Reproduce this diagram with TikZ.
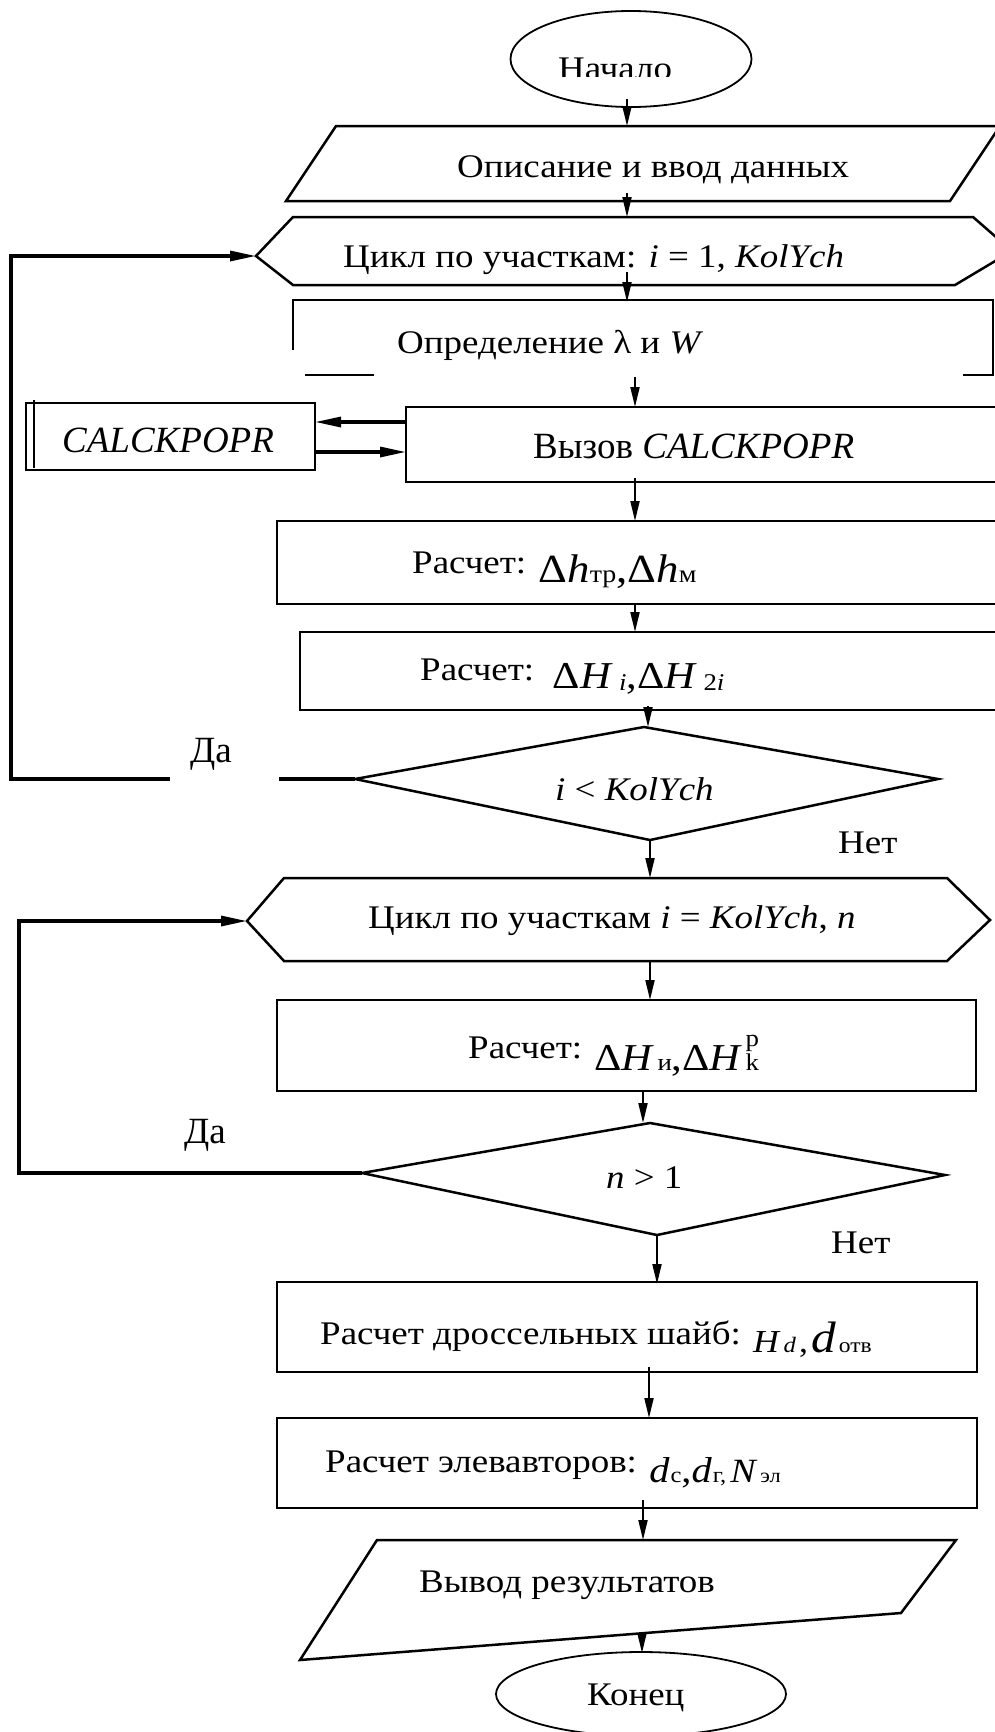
\documentclass[tikz,border=0pt]{standalone}
\usepackage{fontspec}
\setmainfont[FakeStretch=1.12]{Liberation Serif}
\newfontfamily\plainrm{Liberation Serif}
\usetikzlibrary{arrows.meta,shapes.geometric}
\newcommand{\fsz}[1]{\fontsize{#1}{#1}\selectfont}
\begin{document}
\begin{tikzpicture}[x=1pt,y=-1pt,
  box/.style={line width=2.5pt},
  thinl/.style={line width=1.8pt},
  arr/.style={line width=2pt,-{Triangle[length=20pt,width=9pt]}},
  loopa/.style={line width=3.2pt,-{Triangle[length=26pt,width=10pt]}},
  loopl/.style={line width=3.2pt},
  txt/.style={inner sep=0pt,anchor=base west,font=\fsz{33}},
  bigtxt/.style={inner sep=0pt,anchor=base west,font=\plainrm\fsz{37}},
  oval/.style={draw,ellipse,thinl,inner sep=0pt}]
\useasboundingbox (0,0) rectangle (995,1732);

% ---------- shapes ----------
\node[oval,minimum width=241pt,minimum height=96pt] (start) at (631,59) {};
\draw[box] (336,126) -- (1000,126) -- (950,201) -- (286,201) -- cycle;
\draw[box] (293,217) -- (973,217) -- (1012,251) -- (955,285) -- (293,285) -- (256,256) -- cycle;
\draw[box] (293,350) -- (293,300) -- (993,300) -- (993,375) -- (963,375);
\draw[box] (305,375) -- (374,375);
\draw[box] (406,407) rectangle (1000,482);
\draw[box] (26,403) rectangle (315,470);
\draw[thinl] (34,400) -- (34,468);
\draw[box] (277,521) rectangle (1000,604);
\draw[box] (300,632) rectangle (1000,710);
\draw[box] (644,727) -- (938,779) -- (650,840) -- (355,779) -- cycle;
\draw[box] (284,878) -- (947,878) -- (990,920) -- (947,961) -- (284,961) -- (247,921) -- cycle;
\draw[box] (277,1000) rectangle (976,1091);
\draw[box] (650,1123) -- (945,1175) -- (657,1235) -- (362,1173) -- cycle;
\draw[box] (277,1282) rectangle (977,1372);
\draw[box] (277,1418) rectangle (977,1508);
\draw[box] (377,1540) -- (956,1540) -- (901,1613) -- (300,1660) -- cycle;
\node[oval,minimum width=290pt,minimum height=84pt] (end) at (641,1694) {};

% ---------- texts ----------
\begin{scope}
\clip (0,0) rectangle (995,76);
\node[txt] (tstart) at (558,79) {Начало};
\end{scope}
\node[txt] (tin) at (457,177) {Описание и ввод данных};
\node[txt] (tc1) at (343,267) {Цикл по участкам: \textit{i} = 1, \textit{KolYch}};
\node[txt] (tdef) at (397,353) {Определение λ и \textit{W}};
\node[bigtxt] (tcall) at (533,458) {Вызов \textit{CALCKPOPR}};
\node[bigtxt] (tsub) at (62,452) {\textit{CALCKPOPR}};
\node[txt] (tdh) at (412,573) {Расчет: \raisebox{-9pt}{\fsz{40}Δ\textit{h}\fsz{25}тр\fsz{40},Δ\textit{h}\fsz{25}м}};
\node[txt] (tdH) at (420,680) {Расчет:\ \ \raisebox{-8pt}{\fsz{38}Δ\textit{H}\,\raisebox{-2pt}{\fsz{24}\textit{i}}\fsz{38},Δ\textit{H}\,\raisebox{-2pt}{\fsz{24}2\textit{i}}}};
\node[txt] (td1) at (555,800) {\textit{i} < \textit{KolYch}};
\node[bigtxt] (tyes1) at (190,762) {Да};
\node[txt] (tno1) at (838,853) {Нет};
\node[txt] (tc2) at (368,928) {Цикл по участкам \textit{i} = \textit{KolYch}, \textit{n}};
\node[txt] (tdHk) at (468,1058) {Расчет: \raisebox{-12pt}{\fsz{38}Δ\textit{H}\kern3pt\fsz{24}и\fsz{38},Δ\textit{H}\kern3pt\fsz{24}\rlap{\raisebox{24pt}{р}}k}};
\node[txt] (td2) at (606,1188) {\textit{n} > 1};
\node[bigtxt] (tyes2) at (184,1143) {Да};
\node[txt] (tno2) at (831,1253) {Нет};
\node[txt] (tdr) at (320,1344) {Расчет дроссельных шайб: \raisebox{-8pt}{\fsz{32}\textit{H}\kern3pt\fsz{22}\textit{d}\fsz{32}\kern3pt,\kern3pt\fsz{44}\textit{d}\kern3pt\fsz{21}отв}};
\node[txt] (tel) at (325,1472) {Расчет элевавторов: \raisebox{-10pt}{\fsz{36}\textit{d}\kern1pt\fsz{22}с\fsz{36},\textit{d}\kern1pt\fsz{22}г,\kern4pt\fsz{34}\textit{N}\kern3pt\fsz{20}эл}};
\node[txt] (tout) at (419,1592) {Вывод результатов};
\node[txt] (tend) at (587,1705) {Конец};

% ---------- connector ends ----------
\coordinate (s1) at (627,99);   \coordinate (e1) at (627,126);
\coordinate (s2) at (627,193);  \coordinate (e2) at (627,217);
\coordinate (s3) at (627,272);  \coordinate (e3) at (627,302);
\coordinate (s4) at (635,377);  \coordinate (e4) at (635,407);
\coordinate (s5) at (635,478);  \coordinate (e5) at (635,521);
\coordinate (s6) at (635,604);  \coordinate (e6) at (635,632);
\coordinate (s7) at (648,706);  \coordinate (e7) at (648,727);
\coordinate (s8) at (650,840);  \coordinate (e8) at (650,878);
\coordinate (s9) at (650,961);  \coordinate (e9) at (650,1000);
\coordinate (s10) at (643,1091); \coordinate (e10) at (643,1123);
\coordinate (s11) at (657,1235); \coordinate (e11) at (657,1284);
\coordinate (s12) at (649,1367); \coordinate (e12) at (649,1418);
\coordinate (s13) at (643,1500); \coordinate (e13) at (643,1540);
\coordinate (s14) at (642,1632); \coordinate (e14) at (642,1653);
\coordinate (callR) at (406,422); \coordinate (subR) at (315,422);
\coordinate (subR2) at (315,452); \coordinate (callR2) at (406,452);
\coordinate (d1L) at (355,779);  \coordinate (h1L) at (256,256);
\coordinate (d2L) at (362,1173); \coordinate (h2L) at (247,921);

% ---------- connectors ----------
\foreach \i in {1,...,14} {\draw[arr] (s\i) -- (e\i);}
\draw[loopa] (callR) -- (subR);
\draw[loopa] (subR2) -- (callR2);
\draw[loopl] (d1L) -- (279,779);
\draw[loopa] (170,779) -- (11,779) -- (11,256) -- (h1L);
\draw[loopa] (d2L) -- (19,1173) -- (19,921) -- (h2L);
\end{tikzpicture}
\end{document}
